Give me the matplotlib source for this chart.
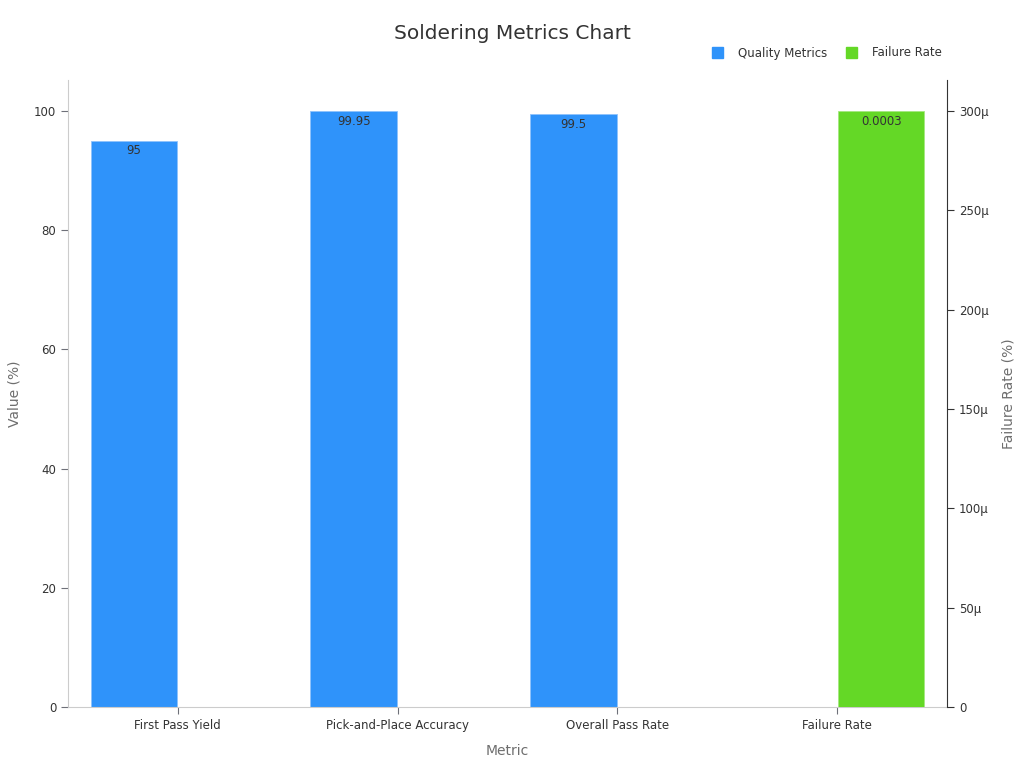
import matplotlib.pyplot as plt
import matplotlib.ticker as mticker
import numpy as np

categories = ["First Pass Yield", "Pick-and-Place Accuracy", "Overall Pass Rate", "Failure Rate"]
quality_values = [95, 99.95, 99.5, None]
failure_values = [None, None, None, 0.0003]
quality_labels = ["95", "99.95", "99.5"]
failure_labels = ["0.0003"]

blue = "#2f93fa"
green = "#64d826"
text_col = "#333333"
axis_label_col = "#6e6e6e"

fig = plt.figure(figsize=(10.24, 7.68), dpi=100)
ax = fig.add_axes([0.0664, 0.0794, 0.8584, 0.8164])
ax2 = ax.twinx()

x = np.arange(len(categories))
w = 0.395
off = 0.2

qx = [x[i] - off for i, v in enumerate(quality_values) if v is not None]
qv = [v for v in quality_values if v is not None]
fx = [x[i] + off for i, v in enumerate(failure_values) if v is not None]
fv = [v for v in failure_values if v is not None]

bq = ax.bar(qx, qv, width=w, color=blue, edgecolor="#8fc3fb", linewidth=0.6, zorder=2)
bf = ax2.bar(fx, fv, width=w, color=green, edgecolor="#a5e87f", linewidth=0.6, zorder=2)

for rect, lab in zip(bq, quality_labels):
    ax.text(rect.get_x() + rect.get_width() / 2, rect.get_height() - 0.6, lab,
            ha="center", va="top", fontsize=8.5, color=text_col)
for rect, lab in zip(bf, failure_labels):
    ax2.text(rect.get_x() + rect.get_width() / 2, rect.get_height() - 0.0003 * 0.006, lab,
             ha="center", va="top", fontsize=8.5, color=text_col)

ax.set_xlim(-0.5, 3.5)
ax.set_ylim(0, 105.2)
ax2.set_ylim(0, 0.0003 * 1.052)
ax.set_yticks([0, 20, 40, 60, 80, 100])
ax2.set_yticks(np.arange(0, 0.00031, 0.00005))
ax2.yaxis.set_major_formatter(mticker.FuncFormatter(
    lambda v, p: "0" if v == 0 else f"{round(v * 1e6)}µ"))

ax.set_xticks(x)
ax.set_xticklabels(categories, fontsize=8.5, color=text_col)
ax.tick_params(axis="y", labelsize=8.5, colors=text_col, length=5, color="#6e7079")
ax.tick_params(axis="x", length=5, color="#6e7079")
ax2.tick_params(axis="y", labelsize=8.5, colors=text_col, length=5, color="#333333")

for s in ["top", "right"]:
    ax.spines[s].set_visible(False)
ax.spines["left"].set_color("#cccccc")
ax.spines["bottom"].set_color("#cccccc")
for s in ["top", "left", "bottom"]:
    ax2.spines[s].set_visible(False)
ax2.spines["right"].set_color("#333333")

ax.set_ylabel("Value (%)", fontsize=10, color=axis_label_col, labelpad=9)
ax.set_xlabel("Metric", fontsize=10, color=axis_label_col, labelpad=9)
ax2.set_ylabel("Failure Rate (%)", fontsize=10, color=axis_label_col, labelpad=9)

fig.text(0.5, 0.957, "Soldering Metrics Chart", ha="center", va="center",
         fontsize=14.5, color=text_col)

fig.patches.append(plt.Rectangle((712 / 1024, 1 - 58 / 768), 11 / 1024, 11 / 768,
                                 transform=fig.transFigure, color=blue))
fig.text(738 / 1024, 1 - 53 / 768, "Quality Metrics", va="center", fontsize=8.5, color=text_col)
fig.patches.append(plt.Rectangle((846 / 1024, 1 - 58 / 768), 11 / 1024, 11 / 768,
                                 transform=fig.transFigure, color=green))
fig.text(872 / 1024, 1 - 53 / 768, "Failure Rate", va="center", fontsize=8.5, color=text_col)

fig.savefig("out.png", dpi=100)
